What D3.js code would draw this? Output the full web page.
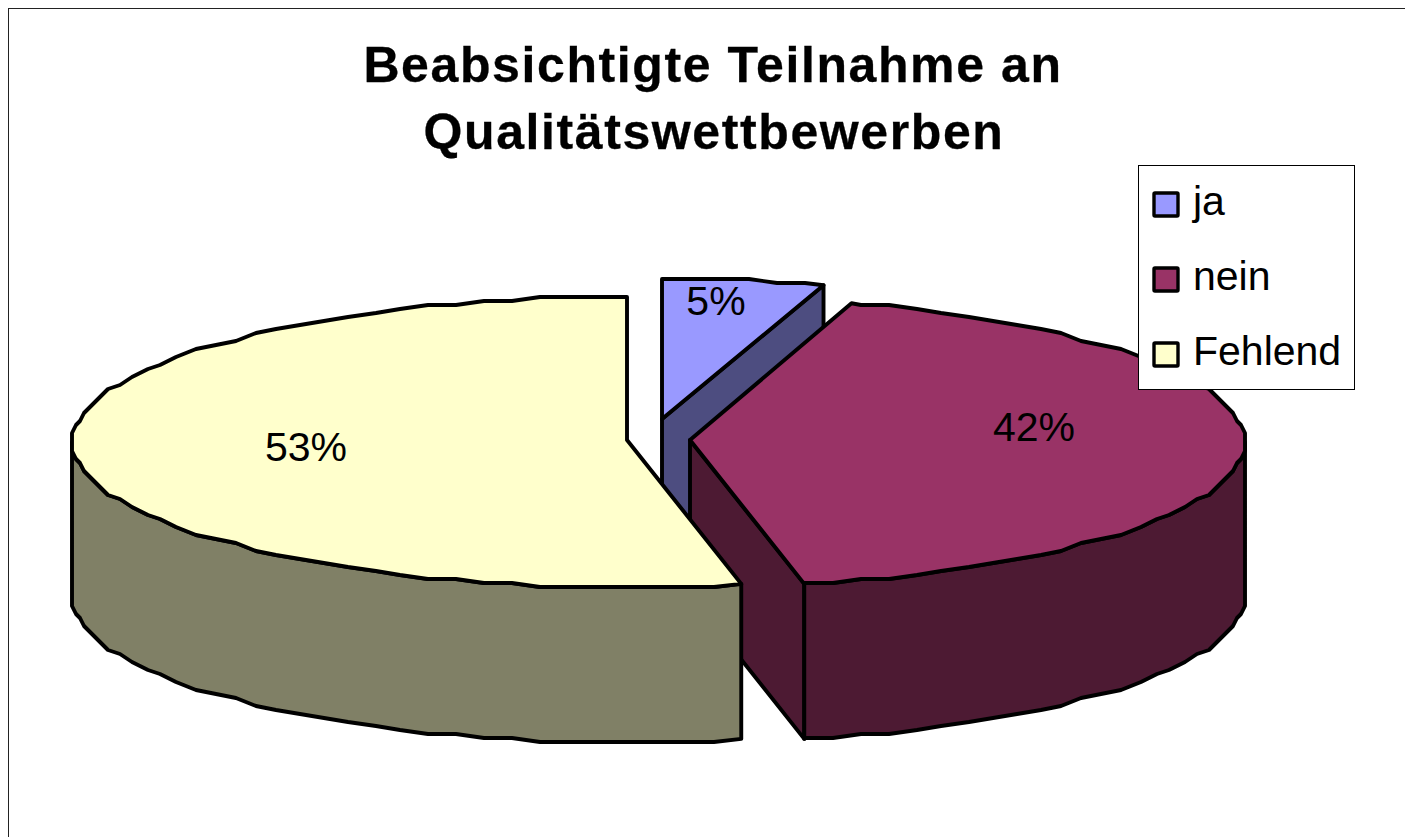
<!DOCTYPE html>
<html><head><meta charset="utf-8">
<script src="https://cdn.jsdelivr.net/npm/d3@7"></script>
<style>html,body{margin:0;padding:0;background:#fff;overflow:hidden}svg{display:block}text{font-family:"Liberation Sans",Arial,sans-serif;fill:#000}</style>
</head><body><svg id="c" width="1405" height="837"></svg>
<script>
const categories=["ja","nein","Fehlend"];
const values=[4.7,42.0,53.3];
const valueLabels=["5%","42%","53%"];
const topColors=["#9999ff","#993366","#ffffcc"];
const sideColors=["#4d4d80","#4d1a33","#808066"];
const titleLines=["Beabsichtigte Teilnahme an","Qualitätswettbewerben"];
const titleX=[713,714];

const svg=d3.select("#c");
svg.append("rect").attr("x",8.5).attr("y",8.5).attr("width",1500).attr("height",1000).attr("fill","#fff").attr("stroke","#222").attr("stroke-width",1);

titleLines.forEach((t,i)=>svg.append("text").attr("x",titleX[i]).attr("y",82+i*67).attr("text-anchor","middle")
  .attr("font-size",50).attr("font-weight","bold").attr("letter-spacing",1.6).attr("stroke","#000").attr("stroke-width",0.3).text(t));

const rx=555, ry=145, depth=155, step=3*Math.PI/180;
const apexes=[[662,419],[690,440],[627,440]];
const centerDrop=[5,2,2];
const arcs=d3.pie().sort(null)(values);
const line=d3.line();
const pt=(c,a,dy=0)=>[c[0]+rx*Math.sin(a),c[1]-ry*Math.cos(a)+dy];
const snapOff=(d,r,g)=>Math.sign(d)*(r-Math.round((r-Math.abs(d))/g)*g);
// outline nodes sit on a fixed angular grid, so top face and rim always share them
function edge(c,a0,a1,dy=0){
  const lo=Math.min(a0,a1), hi=Math.max(a0,a1);
  const nodes=d3.range(Math.floor(lo/step)+1,Math.ceil(hi/step)).map(k=>k*step).filter(a=>a>lo+1e-6&&a<hi-1e-6);
  const inner=nodes.map(a=>[c[0]+snapOff(rx*Math.sin(a),rx,4),c[1]+dy+snapOff(-ry*Math.cos(a),ry,4)]);
  const pts=[pt(c,lo,dy),...inner,pt(c,hi,dy)];
  return a0<=a1?pts:pts.reverse();
}
const draw=(pts,fill)=>svg.append("path").attr("d",line(pts)+"Z").attr("fill",fill)
  .attr("stroke","#000").attr("stroke-width",3.9).attr("stroke-linejoin","round");
const ctr=i=>[apexes[i][0],apexes[i][1]+centerDrop[i]];

// ja
{const a=arcs[0],c=ctr(0),p=apexes[0];
 draw([p,pt(c,a.endAngle),pt(c,a.endAngle,depth),[p[0],p[1]+depth]],sideColors[0]);
 draw([p,...edge(c,a.startAngle,a.endAngle)],topColors[0]);}
// nein
{const a=arcs[1],c=ctr(1),p=apexes[1];
 draw([p,pt(c,a.endAngle),pt(c,a.endAngle,depth),[p[0],p[1]+depth]],sideColors[1]);
 draw([...edge(c,Math.PI/2,a.endAngle),...edge(c,a.endAngle,Math.PI/2,depth)],sideColors[1]);
 draw([p,...edge(c,a.startAngle,a.endAngle)],topColors[1]);}
// Fehlend
{const a=arcs[2],c=ctr(2),p=apexes[2];
 draw([...edge(c,a.startAngle,1.5*Math.PI),...edge(c,1.5*Math.PI,a.startAngle,depth)],sideColors[2]);
 draw([p,...edge(c,a.startAngle,a.endAngle)],topColors[2]);}

// percentage labels
const labelPos=[[716,315],[1034,441],[306,461]];
valueLabels.forEach((t,i)=>svg.append("text").attr("x",labelPos[i][0]).attr("y",labelPos[i][1]).attr("text-anchor","middle").attr("font-size",41).text(t));

// legend
const lg=svg.append("g");
lg.append("rect").attr("x",1138.5).attr("y",165.5).attr("width",216).attr("height",224).attr("fill","#fff").attr("stroke","#000").attr("stroke-width",1);
const ly=d3.scalePoint().domain(categories).range([204,354]);
categories.forEach((k,i)=>{
  lg.append("rect").attr("x",1154).attr("y",ly(k)-11).attr("width",24).attr("height",23).attr("fill",topColors[i]).attr("stroke","#000").attr("stroke-width",3.4).attr("rx",1);
  lg.append("text").attr("x",1193).attr("y",ly(k)+11).attr("font-size",41).text(k);
});
</script></body></html>
